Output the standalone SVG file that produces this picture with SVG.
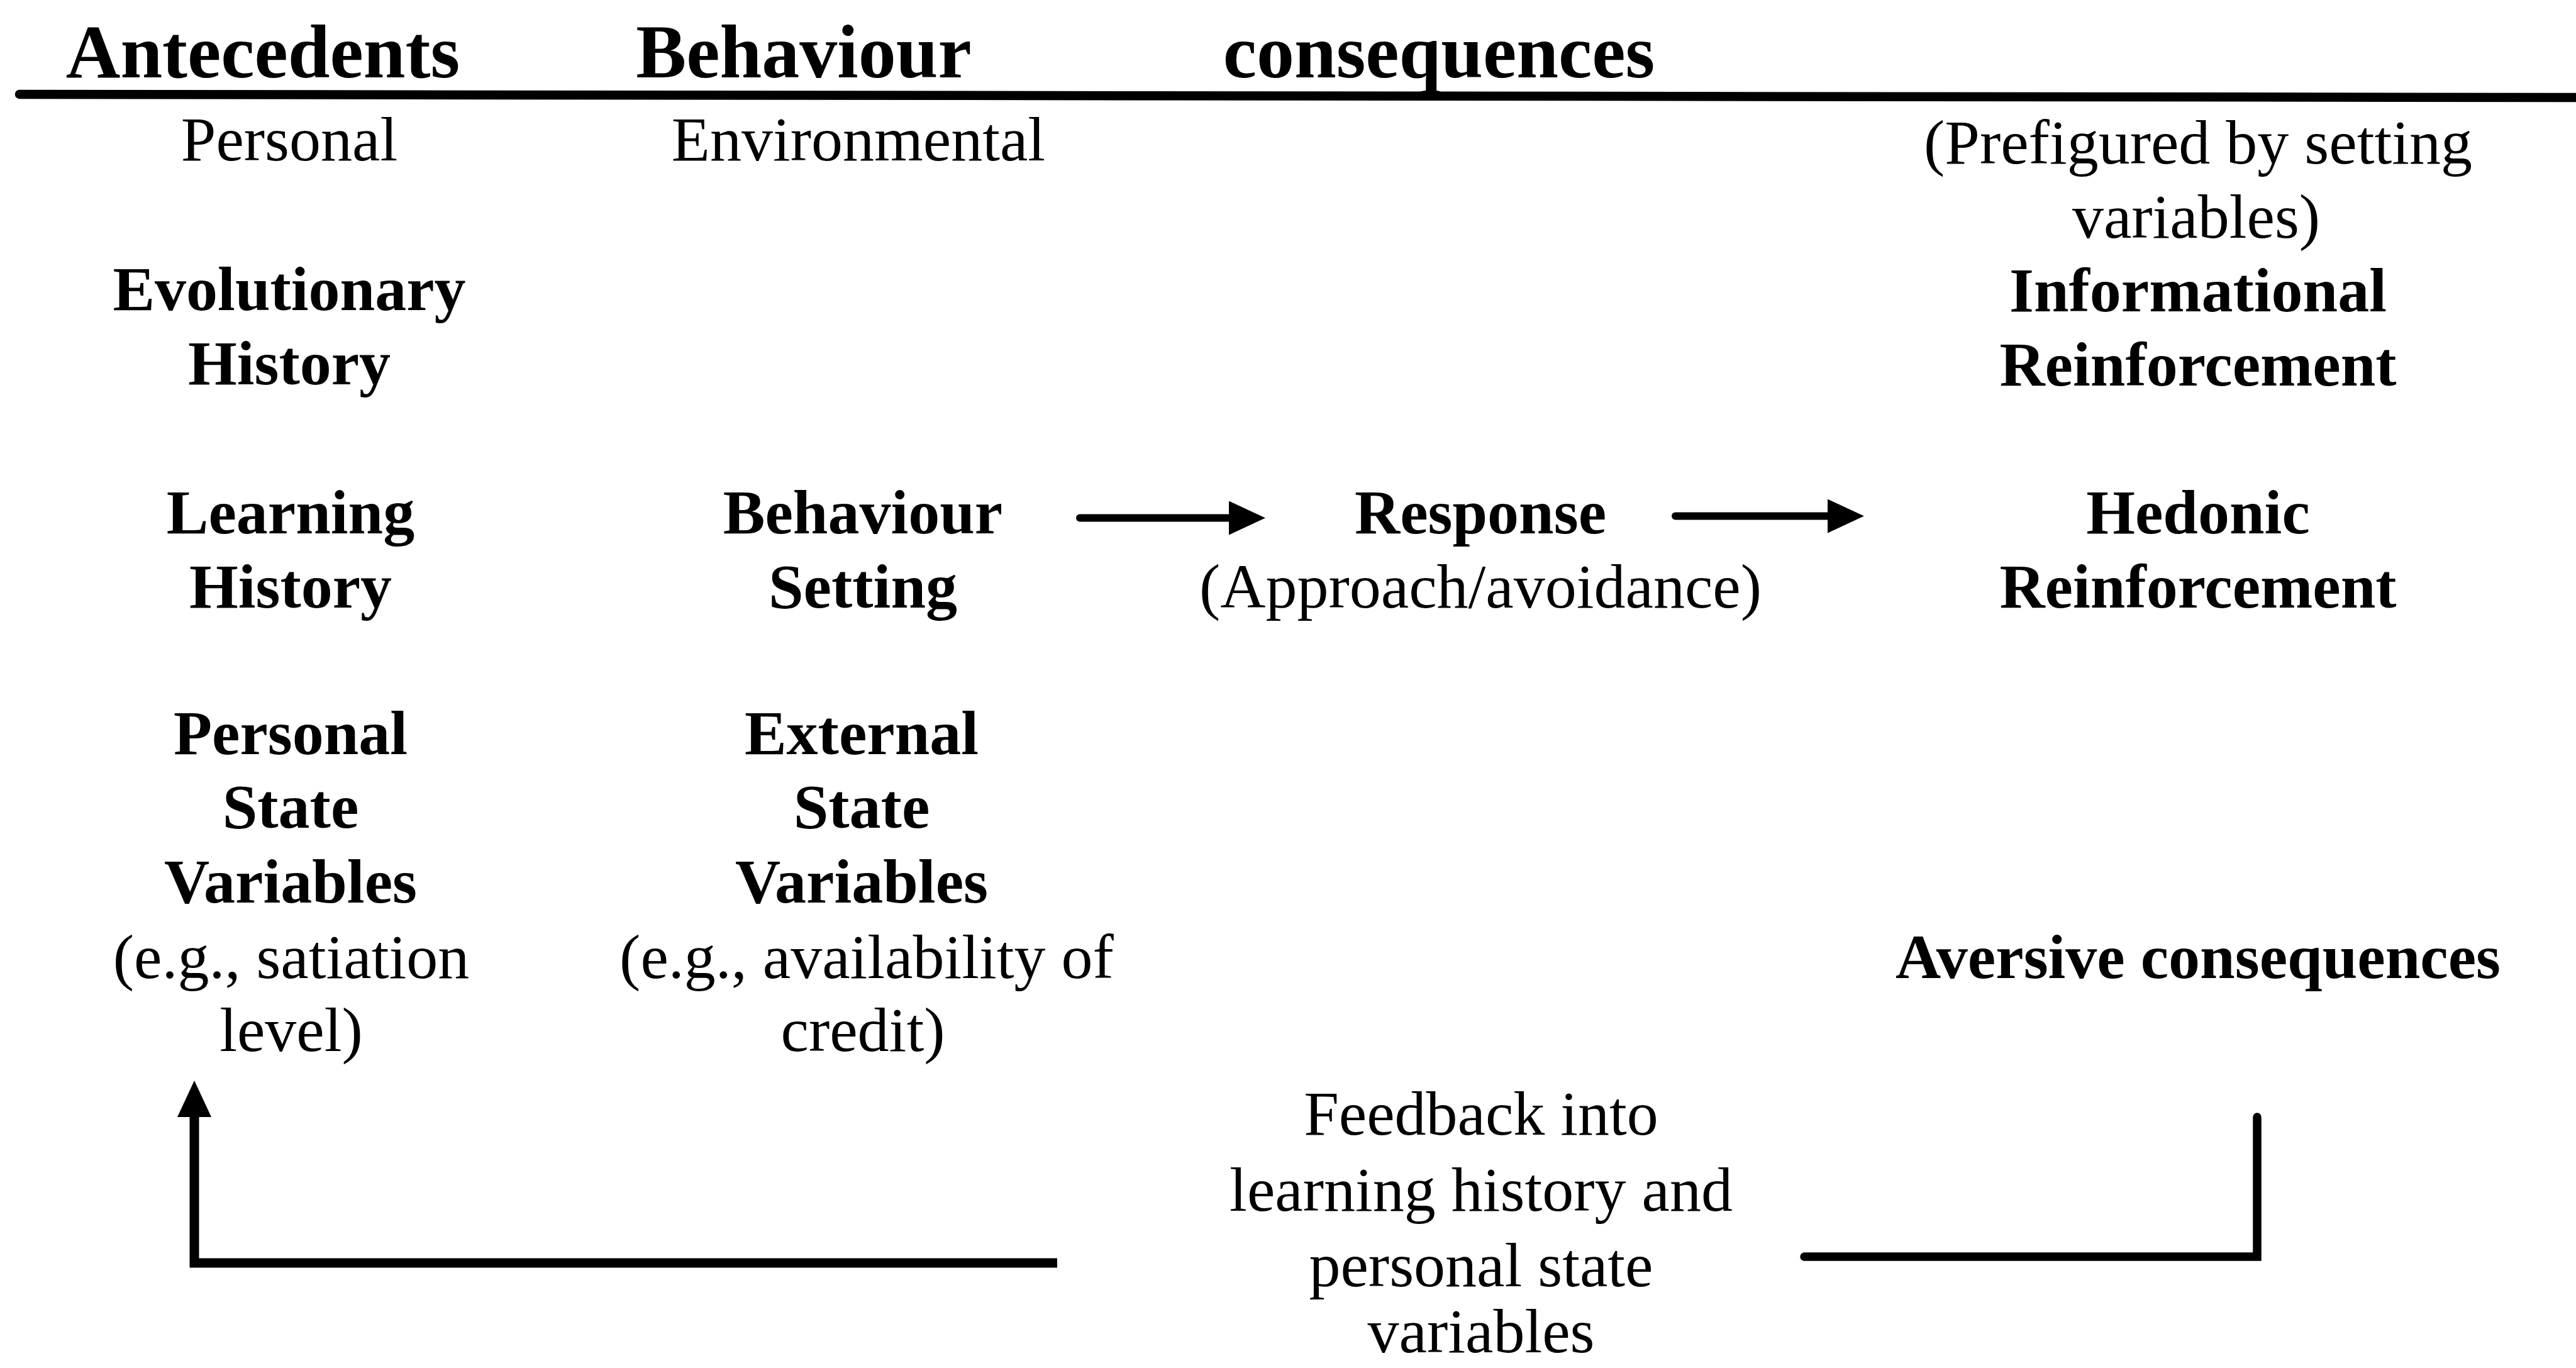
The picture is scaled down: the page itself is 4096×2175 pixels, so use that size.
<svg xmlns="http://www.w3.org/2000/svg" width="4096" height="2175" viewBox="0 0 4096 2175">
  <style>
    text { font-family: "Liberation Serif", "Times New Roman", serif; fill: #000; text-anchor: middle; }
    .h { font-size: 120px; font-weight: bold; }
    .b { font-size: 100px; font-weight: bold; }
    .r { font-size: 100px; font-weight: normal; }
    .wire { fill: none; stroke: #000; }
  </style>
  <defs>
    <marker id="head" markerUnits="userSpaceOnUse" markerWidth="58" markerHeight="54" viewBox="0 0 58 54" refX="2" refY="27" orient="auto">
      <path d="M0,0 L58,27 L0,54 Z" fill="#000"/>
    </marker>
  </defs>
  <rect width="4096" height="2175" fill="#fff"/>

  <!-- column headings and rule -->
  <g id="headings">
    <text class="h" x="418" y="123">Antecedents</text>
    <text class="h" x="1278" y="123">Behaviour</text>
    <text class="h" x="2288" y="123">consequences</text>
    <path class="wire" d="M31,150 L4096,155" stroke-width="14.5" stroke-linecap="round"/>
  </g>

  <g id="personal-label"><text class="r" x="460" y="255">Personal</text></g>
  <g id="environmental-label"><text class="r" x="1365" y="255">Environmental</text></g>
  <g id="prefigured-note">
    <text class="r" x="3495" y="260">(Prefigured by setting</text>
    <text class="r" x="3492" y="378">variables)</text>
  </g>

  <g id="evolutionary-history">
    <text class="b" x="460" y="493">Evolutionary</text>
    <text class="b" x="460" y="611">History</text>
  </g>
  <g id="informational-reinforcement">
    <text class="b" x="3495" y="495">Informational</text>
    <text class="b" x="3495" y="613">Reinforcement</text>
  </g>

  <g id="learning-history">
    <text class="b" x="462" y="848">Learning</text>
    <text class="b" x="462" y="966">History</text>
  </g>
  <g id="behaviour-setting">
    <text class="b" x="1372" y="848">Behaviour</text>
    <text class="b" x="1372" y="966">Setting</text>
  </g>
  <g id="response">
    <text class="b" x="2354" y="848">Response</text>
    <text class="r" x="2354" y="966">(Approach/avoidance)</text>
  </g>
  <g id="hedonic-reinforcement">
    <text class="b" x="3495" y="848">Hedonic</text>
    <text class="b" x="3495" y="966">Reinforcement</text>
  </g>

  <g id="personal-state-variables">
    <text class="b" x="462" y="1199">Personal</text>
    <text class="b" x="462" y="1316">State</text>
    <text class="b" x="462" y="1435">Variables</text>
    <text class="r" x="463" y="1555">(e.g., satiation</text>
    <text class="r" x="463" y="1671">level)</text>
  </g>
  <g id="external-state-variables">
    <text class="b" x="1370" y="1199">External</text>
    <text class="b" x="1370" y="1316">State</text>
    <text class="b" x="1370" y="1435">Variables</text>
    <text class="r" x="1378" y="1555">(e.g., availability of</text>
    <text class="r" x="1372" y="1671">credit)</text>
  </g>
  <g id="aversive-consequences">
    <text class="b" x="3495" y="1555">Aversive consequences</text>
  </g>

  <g id="feedback">
    <text class="r" x="2355" y="1804">Feedback into</text>
    <text class="r" x="2355" y="1925">learning history and</text>
    <text class="r" x="2355" y="2045">personal state</text>
    <text class="r" x="2355" y="2150">variables</text>
  </g>

  <!-- connectors -->
  <g id="connectors">
    <line class="wire" x1="1717" y1="823.5" x2="1956" y2="823.5" stroke-width="12" stroke-linecap="round" marker-end="url(#head)"/>
    <line class="wire" x1="2664" y1="820.5" x2="2908" y2="820.5" stroke-width="12" stroke-linecap="round" marker-end="url(#head)"/>
    <path class="wire" d="M1681,2008 H309 V1774" stroke-width="15" stroke-linejoin="miter" marker-end="url(#head)"/>
    <path class="wire" d="M2869,1998 H3589 V1776" stroke-width="13.5" stroke-linejoin="miter" stroke-linecap="round"/>
  </g>
</svg>
